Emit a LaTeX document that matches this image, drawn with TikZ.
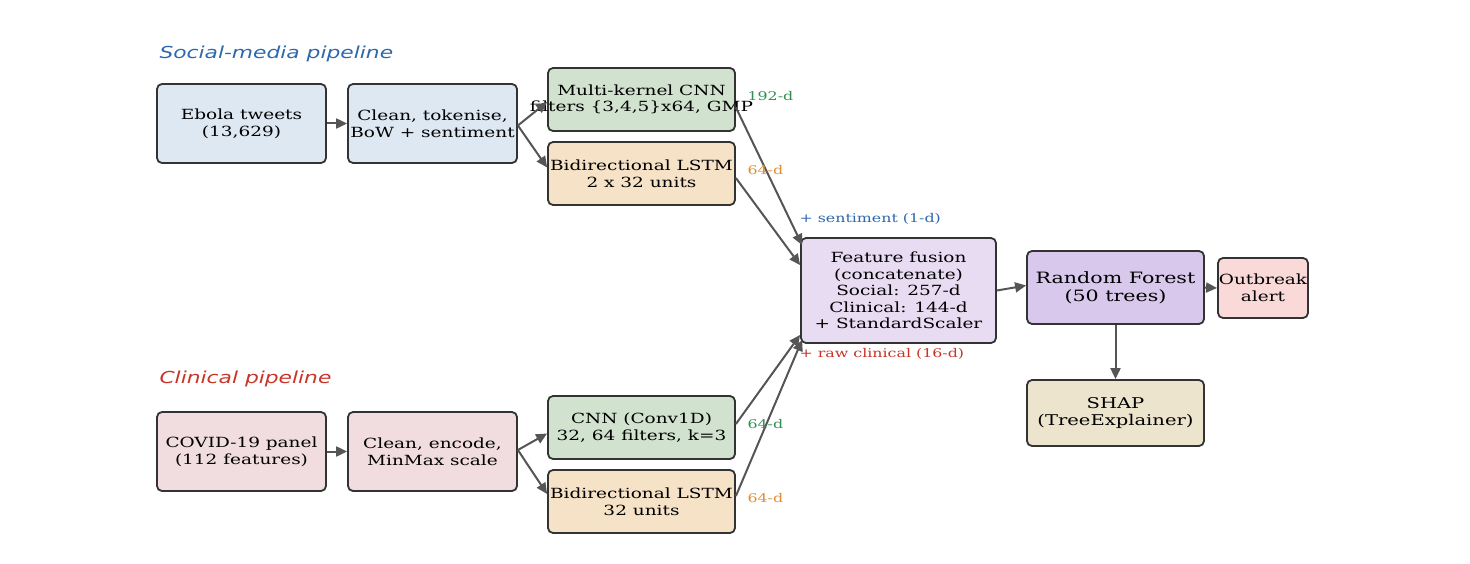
\documentclass[tikz,border=0pt]{standalone}
\usepackage{fontspec}
\setmainfont{DejaVu Serif}[FakeStretch=1.32]
\newfontfamily\titlefont{DejaVu Sans}[FakeStretch=1.32]
\usetikzlibrary{arrows.meta}
\definecolor{edgegray}{RGB}{51,51,51}
\definecolor{arrowgray}{RGB}{85,85,85}
\definecolor{fillblue}{RGB}{221,232,243}
\definecolor{fillgreen}{RGB}{209,227,207}
\definecolor{fillorange}{RGB}{246,226,198}
\definecolor{fillfusion}{RGB}{232,220,242}
\definecolor{fillforest}{RGB}{215,200,236}
\definecolor{fillalert}{RGB}{250,217,217}
\definecolor{fillshap}{RGB}{237,228,206}
\definecolor{fillpink}{RGB}{241,221,223}
\definecolor{titleblue}{RGB}{44,104,172}
\definecolor{titlered}{RGB}{200,52,40}
\definecolor{labgreen}{RGB}{46,145,80}
\definecolor{laborange}{RGB}{228,140,45}
\begin{document}
\begin{tikzpicture}[x=1pt,y=-1pt,
  boxtext/.style={align=center, inner sep=0pt, font=\fontsize{14}{16.6}\selectfont},
  box/.style={boxtext, draw=edgegray, line width=1.8pt, rounded corners=5pt},
  wide/.style={box, minimum width=169pt, minimum height=79pt},
  layer/.style={box, minimum width=187pt, minimum height=63pt},
  flow/.style={draw=arrowgray, line width=2pt, -{Triangle[length=11pt,width=10pt]}},
  dimlab/.style={anchor=west, font=\fontsize{12}{14}\selectfont},
  title/.style={anchor=west, font=\titlefont\itshape\fontsize{16.5}{19}\selectfont}]
\useasboundingbox (0,0) rectangle (1470,564);

% section headings
\node[title, text=titleblue] (ttop) at (156,54) {Social-media pipeline};
\node[title, text=titlered] (tbot) at (156,379) {Clinical pipeline};

% social-media branch
\node[wide, fill=fillblue] (tweets) at (241.5,123.5) {Ebola tweets\\(13,629)};
\node[wide, fill=fillblue] (clean1) at (432.5,123.5) {Clean, tokenise,\\BoW + sentiment};
% the CNN caption is wider than its box and spills over both sides
\node[layer, fill=fillgreen] (cnn1) at (641.5,99.5) {};
\node[boxtext] (cnn1text) at (cnn1.center) {Multi-kernel CNN\\filters \{3,4,5\}x64, GMP};
\node[layer, fill=fillorange] (lstm1) at (641.5,173.5) {Bidirectional LSTM\\2 x 32 units};

% clinical branch
\node[wide, fill=fillpink] (panel) at (241.5,451.5) {COVID-19 panel\\(112 features)};
\node[wide, fill=fillpink] (clean2) at (432.5,451.5) {Clean, encode,\\MinMax scale};
\node[layer, fill=fillgreen] (cnn2) at (641.5,427.5) {CNN (Conv1D)\\32, 64 filters, k=3};
\node[layer, fill=fillorange] (lstm2) at (641.5,501.5) {Bidirectional LSTM\\32 units};

% fusion and classifier
\node[box, fill=fillfusion, minimum width=195pt, minimum height=105pt] (fusion) at (898.5,290.5)
  {Feature fusion\\(concatenate)\\Social: 257-d\\Clinical: 144-d\\+ StandardScaler};
\node[box, fill=fillforest, minimum width=177pt, minimum height=73pt,
  font=\fontsize{15.6}{18}\selectfont] (forest) at (1115.5,287.5) {Random Forest\\(50 trees)};
\node[box, fill=fillalert, minimum width=90pt, minimum height=60pt] (alert) at (1263,288) {Outbreak\\alert};
\node[box, fill=fillshap, minimum width=177pt, minimum height=66pt,
  font=\fontsize{14.8}{17.5}\selectfont] (shap) at (1115.5,413) {SHAP\\(TreeExplainer)};

% connectors (positive yshift points up the page)
\draw[flow] (tweets.east) -- (clean1.west);
\draw[flow] ([yshift=-2pt]clean1.east) -- ([yshift=-2.5pt]cnn1.west);
\draw[flow] ([yshift=-2pt]clean1.east) -- ([yshift=6pt]lstm1.west);
\draw[flow] ([yshift=-8pt]cnn1.east) -- ([shift={(2pt,-8pt)}]fusion.north west);
\draw[flow] ([yshift=-4.5pt]lstm1.east) -- ([yshift=-28pt]fusion.north west);
\draw[flow] (panel.east) -- (clean2.west);
\draw[flow] ([yshift=1.5pt]clean2.east) -- ([yshift=-6pt]cnn2.west);
\draw[flow] ([yshift=1.5pt]clean2.east) -- ([yshift=7.5pt]lstm2.west);
\draw[flow] ([yshift=3.5pt]cnn2.east) -- ([yshift=9pt]fusion.south west);
\draw[flow] ([yshift=5.5pt]lstm2.east) -- ([shift={(2pt,4pt)}]fusion.south west);
\draw[flow] (fusion.east) -- ([yshift=2pt]forest.west);
\draw[flow] (forest.east) -- (alert.west);
\draw[flow] (forest.south) -- (shap.north);

% dimension labels
\node[dimlab, text=labgreen] (d1) at (744,96) {192-d};
\node[dimlab, text=laborange] (d2) at (744,170) {64-d};
\node[dimlab, text=labgreen] (d3) at (744,424) {64-d};
\node[dimlab, text=laborange] (d4) at (744,498) {64-d};
\node[dimlab, text=titleblue] (s1) at (796,219) {+ sentiment (1-d)};
\node[dimlab, text=titlered] (s2) at (796,354) {+ raw clinical (16-d)};
\end{tikzpicture}
\end{document}
